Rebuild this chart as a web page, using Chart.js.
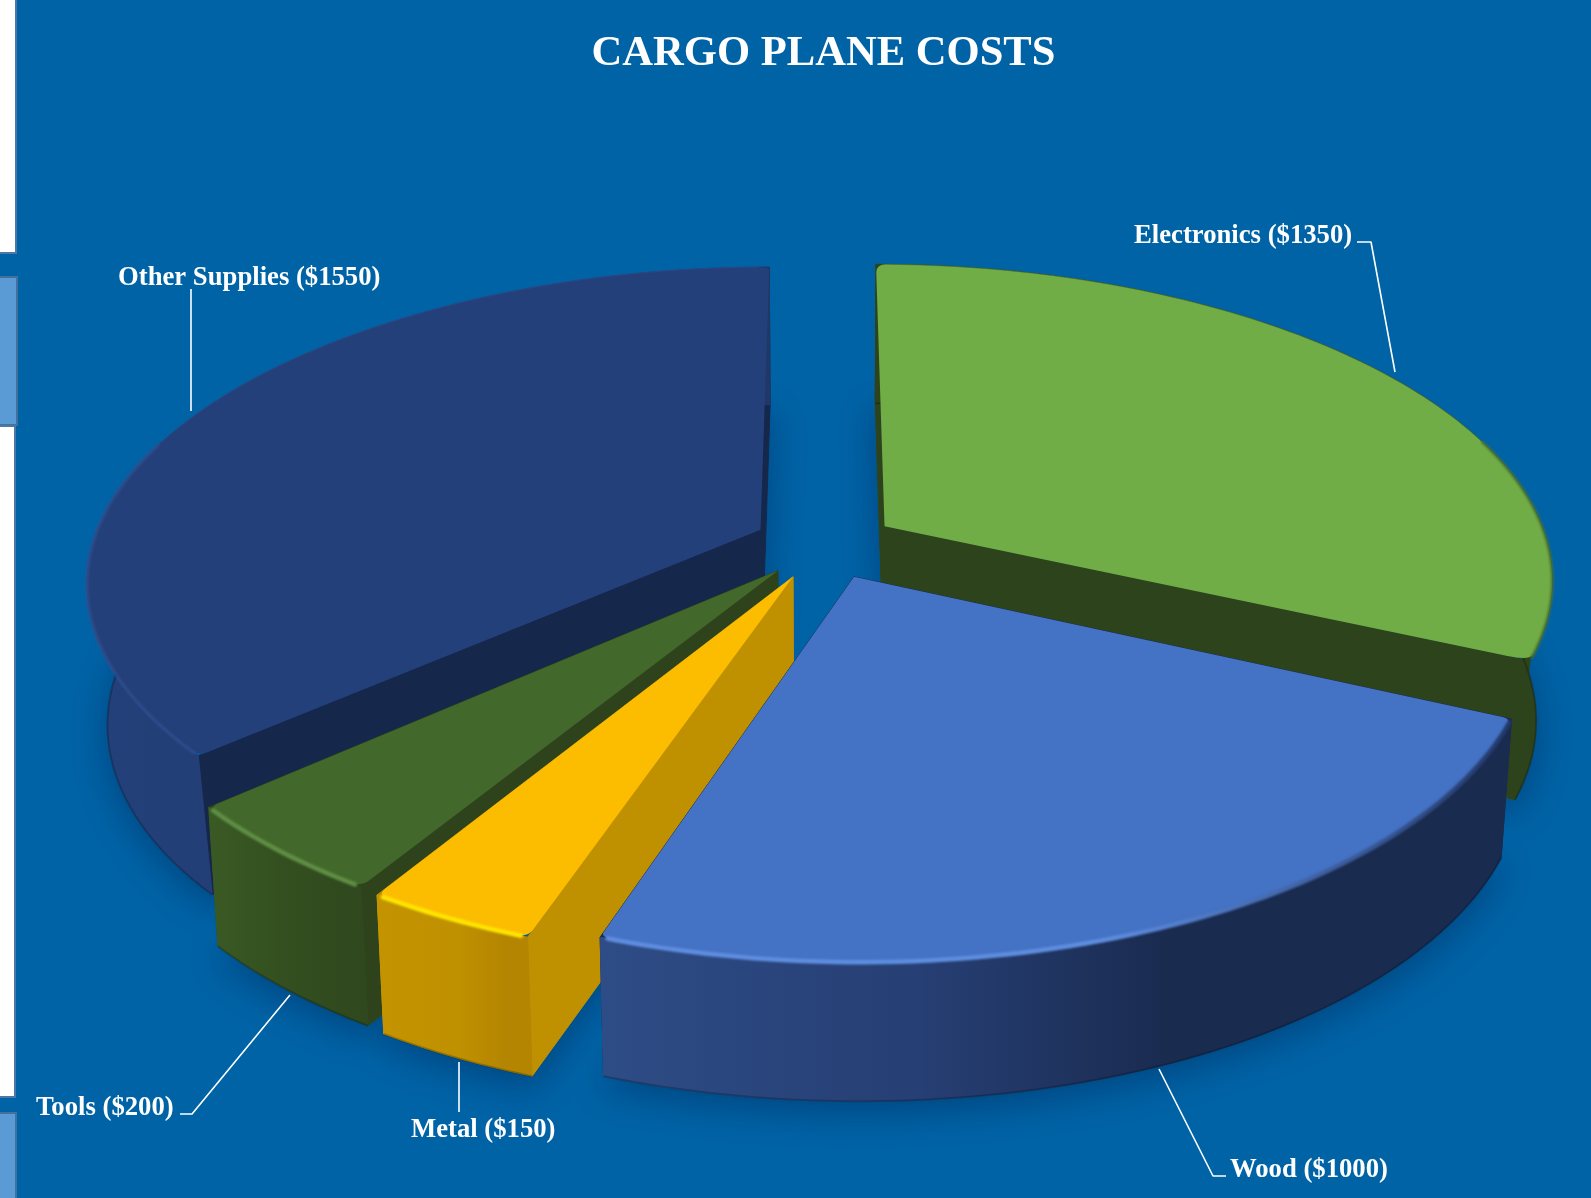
<!DOCTYPE html>
<html>
<head>
<meta charset="utf-8">
<title>Cargo plane costs</title>
<script src="https://cdn.jsdelivr.net/npm/chart.js@4/dist/chart.umd.js"></script>
<style>
  html, body { margin: 0; padding: 0; background: #0063a6; overflow: hidden; }
  canvas { position: absolute; left: 0; top: 0; }
  .strip { position: absolute; left: 0; box-sizing: border-box; }
  .white { background: #fff; border: 2px solid #4a78a8; border-left: 0; }
  .tab { background: #5b9bd5; border: 2px solid #41719c; border-left: 0; }
</style>
</head>
<body>
<canvas id="chart" width="1591" height="1198"></canvas>
<div class="strip white" style="top:-2px;width:17px;height:256px"></div>
<div class="strip tab" style="top:276px;width:18px;height:150px"></div>
<div class="strip white" style="top:425px;width:16px;height:673px"></div>
<div class="strip tab" style="top:1112px;width:17px;height:90px"></div>
<script>
const chartTitle = "CARGO PLANE COSTS";
const categories = ["Electronics", "Wood", "Metal", "Tools", "Other Supplies"];
const costs = [1350, 1000, 150, 200, 1550];

// look of each slice, same order as categories
const topColors = ["#70ad47", "#4472c4", "#fcbd00", "#43682b", "#24407a"];
const cutColors = ["#2d431c", "#1a2b50", "#bf9000", "#2e431c", "#15284b"];
const rimColors = ["#4d7330", "#5f8ee0", "#ffe600", "#5f8f45", "#2f4f8f"];
const rimWidths = [2.5, 4.5, 4.5, 4.5, 2.5];
const sideStops = [
  [[0, "#2d431c"], [1, "#2d431c"]],
  [[0, "#2e4c86"], [0.35, "#263f74"], [0.62, "#1a2b50"], [1, "#1a2b50"]],
  [[0, "#c49300"], [0.55, "#bf9000"], [0.85, "#b48500"], [1, "#b48500"]],
  [[0, "#3a5a24"], [0.5, "#334f1f"], [1, "#2f481e"]],
  [[0, "#24407a"], [1, "#1f3868"]]
];

// how far each slice is pulled out, in pie radii
const explodeX = [0.0936, 0.0456, -0.0456, -0.0685, -0.0965];
const explodeY = [-0.055, 0.107, 0.107, 0.088, -0.043];
const widen = [0.008, 0, 0, 0, 0.015];
const drawOrder = [4, 0, 3, 2, 1];

// data labels and their leader lines
const labelX = [1134, 1230, 411, 36, 118];
const labelY = [236, 1170.5, 1130.5, 1108.5, 278.5];
const leaders = [
  [[1357, 242], [1371, 242], [1395, 372]],
  [[1159, 1069], [1213, 1176], [1226, 1176]],
  [[459, 1062], [459, 1112]],
  [[180, 1114], [192, 1114], [290, 995]],
  [[191, 289], [191, 411]]
];

// fake 3d view of the flat pie
const stretchX = 1.418;
const stretchY = 0.668;
const tilt = 0.164;
const depth = 139;
const shrink = 0.985;

const serif = "'Liberation Serif', 'Times New Roman', serif";

function sliceShape(arc, i) {
  const cx = arc.x, cy = arc.y, R = arc.outerRadius;
  const project = (px, py) => {
    const d = 1 - tilt * py;
    return [cx + stretchX * R * px / d, cy + stretchY * R * py / d];
  };
  const lower = p => [cx + (p[0] - cx) * shrink, p[1] + depth];
  const apex = project(explodeX[i], explodeY[i]);
  const rim = [];
  const lowRim = [];
  const angles = [];
  const steps = Math.ceil((arc.endAngle - arc.startAngle) / 0.02);
  for (let s = 0; s <= steps; s++) {
    const a = arc.startAngle + (arc.endAngle - arc.startAngle) * s / steps;
    const u = Math.cos(a), v = Math.sin(a);
    angles.push(a);
    rim.push(project(u * (1 + widen[i] * u * u) + explodeX[i], v + explodeY[i]));
    lowRim.push(lower(project(u + explodeX[i], v + explodeY[i])));
  }
  return { apex, rim, angles, lowApex: lower(apex), lowRim };
}

function tracePath(ctx, points) {
  ctx.beginPath();
  points.forEach((p, n) => n ? ctx.lineTo(p[0], p[1]) : ctx.moveTo(p[0], p[1]));
}

function fillPoly(ctx, points, fill) {
  tracePath(ctx, points);
  ctx.closePath();
  ctx.fillStyle = fill;
  ctx.strokeStyle = fill;
  ctx.lineWidth = 1;
  ctx.lineJoin = "round";
  ctx.fill();
  ctx.stroke();
}

// top face with the two outer corners rounded off
function fillTop(ctx, s, fill) {
  const r = s.rim, n = r.length - 1;
  const toward = (a, b, t) => [a[0] + (b[0] - a[0]) * t, a[1] + (b[1] - a[1]) * t];
  const len = Math.hypot(r[0][0] - s.apex[0], r[0][1] - s.apex[1]);
  const a = toward(r[0], s.apex, 9 / len);
  const b = toward(r[n], s.apex, 9 / len);
  ctx.beginPath();
  ctx.moveTo(s.apex[0], s.apex[1]);
  ctx.lineTo(a[0], a[1]);
  ctx.quadraticCurveTo(r[0][0], r[0][1], r[1][0], r[1][1]);
  for (let k = 2; k < n; k++) ctx.lineTo(r[k][0], r[k][1]);
  ctx.quadraticCurveTo(r[n][0], r[n][1], b[0], b[1]);
  ctx.closePath();
  ctx.fillStyle = fill;
  ctx.fill();
}

const pie3d = {
  id: "pie3d",
  beforeDatasetDraw(chart) {
    const ctx = chart.ctx;
    const arcs = chart.getDatasetMeta(0).data;
    const shapes = arcs.map(sliceShape);

    // soft shadow on the background
    ctx.save();
    ctx.shadowColor = "rgba(0, 35, 80, 0.42)";
    ctx.shadowBlur = 34;
    ctx.shadowOffsetY = 10;
    shapes.forEach(s => fillPoly(ctx, [s.lowApex].concat(s.lowRim), "#0063a6"));
    ctx.restore();

    drawOrder.forEach(i => {
      const s = shapes[i];
      const n = s.rim.length - 1;

      fillPoly(ctx, [s.apex, s.rim[0], s.lowRim[0], s.lowApex], cutColors[i]);
      fillPoly(ctx, [s.apex, s.rim[n], s.lowRim[n], s.lowApex], cutColors[i]);

      const xs = s.rim.map(p => p[0]);
      const grad = ctx.createLinearGradient(Math.min(...xs), 0, Math.max(...xs), 0);
      sideStops[i].forEach(st => grad.addColorStop(st[0], st[1]));
      fillPoly(ctx, s.rim.concat(s.lowRim.slice().reverse()), grad);

      // darker foot of the side wall
      ctx.save();
      tracePath(ctx, s.lowRim);
      ctx.strokeStyle = "rgba(0, 0, 0, 0.22)";
      ctx.lineWidth = 2;
      ctx.stroke();
      ctx.restore();

      fillTop(ctx, s, topColors[i]);

      const rimGrad = ctx.createLinearGradient(Math.min(...xs), 0, Math.max(...xs), 0);
      rimGrad.addColorStop(0, rimColors[i]);
      rimGrad.addColorStop(0.55, rimColors[i]);
      rimGrad.addColorStop(1, i === 1 ? "#23396a" : rimColors[i]);

      // hairline round the far part of the rim, bevel along the near part
      const mid = (a, b) => [(a[0] + b[0]) / 2, (a[1] + b[1]) / 2];
      const inner = s.rim.slice(1, -1);
      const innerAngles = s.angles.slice(1, -1);
      const far = inner.filter((p, k) => Math.sin(innerAngles[k]) <= -0.2);
      let near = inner.filter((p, k) => Math.sin(innerAngles[k]) > -0.3);
      if (Math.sin(s.angles[0]) > -0.3) near.unshift(mid(s.rim[0], s.rim[1]));
      if (Math.sin(s.angles[n]) > -0.3) near.push(mid(s.rim[n], s.rim[n - 1]));
      ctx.save();
      ctx.strokeStyle = rimGrad;
      ctx.lineCap = "round";
      if (far.length > 1) {
        tracePath(ctx, far);
        ctx.lineWidth = 1;
        ctx.globalAlpha = 0.6;
        ctx.stroke();
        ctx.globalAlpha = 1;
      }
      if (near.length > 1) {
        ctx.filter = "blur(1.2px)";
        tracePath(ctx, near);
        ctx.lineWidth = rimWidths[i];
        ctx.stroke();
      }
      ctx.restore();
    });
    return false;
  },
  afterDraw(chart) {
    const ctx = chart.ctx;
    ctx.save();
    ctx.strokeStyle = "#ffffff";
    ctx.lineWidth = 1.6;
    leaders.forEach(line => {
      tracePath(ctx, line);
      ctx.stroke();
    });
    ctx.fillStyle = "#ffffff";
    ctx.font = "bold 26.7px " + serif;
    ctx.textBaseline = "middle";
    categories.forEach((name, i) => {
      ctx.fillText(name + " ($" + costs[i] + ")", labelX[i], labelY[i]);
    });
    ctx.restore();
  }
};

new Chart(document.getElementById("chart"), {
  type: "pie",
  data: {
    labels: categories,
    datasets: [{
      data: costs,
      backgroundColor: topColors,
      borderWidth: 0
    }]
  },
  options: {
    responsive: false,
    animation: false,
    layout: { padding: { left: 56, bottom: 191 } },
    plugins: {
      legend: { display: false },
      tooltip: { enabled: false },
      title: {
        display: true,
        text: chartTitle,
        fullSize: false,
        color: "#ffffff",
        font: { family: serif, size: 42.6, weight: "bold" },
        padding: { top: 28, bottom: 0 }
      }
    }
  },
  plugins: [pie3d]
});
</script>
</body>
</html>
